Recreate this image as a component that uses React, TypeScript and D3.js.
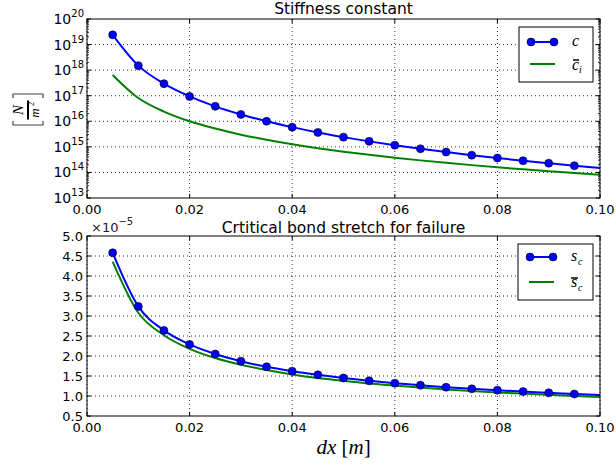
import React from 'react'
import { scaleLinear, scaleLog, line, curveMonotoneX, range } from 'd3'

const dx = [0.005, 0.01, 0.015, 0.02, 0.025, 0.03, 0.035, 0.04, 0.045, 0.05,
  0.055, 0.06, 0.065, 0.07, 0.075, 0.08, 0.085, 0.09, 0.095, 0.1]

// stiffness constant c (markers at all but last point)
const cVals = [2.4e19, 1.5e18, 2.96e17, 9.4e16, 3.84e16, 1.85e16, 1.0e16, 5.9e15, 3.66e15, 2.4e15,
  1.64e15, 1.16e15, 8.4e14, 6.25e14, 4.74e14, 3.66e14, 2.87e14, 2.29e14, 1.84e14, 1.5e14]
const ciVals = [6.5e17, 8.1e16, 2.4e16, 1.0e16, 5.2e15, 3.0e15, 1.9e15, 1.27e15, 8.9e14, 6.5e14,
  4.9e14, 3.76e14, 2.96e14, 2.37e14, 1.93e14, 1.59e14, 1.32e14, 1.11e14, 9.5e13, 8.1e13]

// critical stretch (x 1e-5)
const scVals = [4.58, 3.24, 2.64, 2.29, 2.05, 1.87, 1.73, 1.62, 1.53, 1.45,
  1.38, 1.32, 1.27, 1.22, 1.18, 1.145, 1.11, 1.08, 1.05, 1.024]
const sbVals = [4.36, 3.08, 2.52, 2.18, 1.95, 1.78, 1.65, 1.54, 1.45, 1.38,
  1.31, 1.26, 1.21, 1.165, 1.125, 1.09, 1.06, 1.03, 1.0, 0.975]

const xTicks = [0, 0.02, 0.04, 0.06, 0.08, 0.1]
const logTicks = [13, 14, 15, 16, 17, 18, 19, 20]
const linTicks = [0.5, 1.0, 1.5, 2.0, 2.5, 3.0, 3.5, 4.0, 4.5, 5.0]

const W = 616, H = 466
const left = 87, right = 600
const topA = { y0: 19, y1: 198 }
const botA = { y0: 236, y1: 416 }
const BLUE = '#0000ff', GREEN = '#008000'
const sans = 'DejaVu Sans, sans-serif'
const serif = 'Liberation Serif, DejaVu Serif, serif'
const R = 4

export default function App() {
  const x = scaleLinear().domain([0, 0.1]).range([left, right])
  const yT = scaleLog().domain([1e13, 1e20]).range([topA.y1, topA.y0])
  const yB = scaleLinear().domain([0.5, 5.0]).range([botA.y1, botA.y0])

  const lineT = line<number>().x((_, i) => x(dx[i])).y(d => yT(d)).curve(curveMonotoneX)
  const lineB = line<number>().x((_, i) => x(dx[i])).y(d => yB(d)).curve(curveMonotoneX)

  const minorLog: number[] = []
  for (let e = 13; e < 20; e++) range(2, 10).forEach(m => minorLog.push(m * Math.pow(10, e)))

  const frame = (y0: number, y1: number) => (
    <rect x={left} y={y0} width={right - left} height={y1 - y0} fill="none" stroke="#000" strokeWidth={1} />
  )

  const xAxis = (y0: number, y1: number) => (
    <g>
      {xTicks.map(t => (
        <g key={t}>
          <line x1={x(t)} x2={x(t)} y1={y0} y2={y1} stroke="#000" strokeWidth={0.8} strokeDasharray="1,3" />
          <line x1={x(t)} x2={x(t)} y1={y1} y2={y1 - 4} stroke="#000" />
          <line x1={x(t)} x2={x(t)} y1={y0} y2={y0 + 4} stroke="#000" />
          <text x={x(t)} y={y1 + 16} textAnchor="middle" fontSize={13} fontFamily={sans} fill="#000">{t.toFixed(2)}</text>
        </g>
      ))}
    </g>
  )

  return (
    <svg width={W} height={H} style={{ position: 'absolute', left: 0, top: 0 }}>
      <rect width={W} height={H} fill="#fff" />

      {/* top panel */}
      <text x={(left + right) / 2} y={14} textAnchor="middle" fontSize={15.5} fontFamily={sans}>Stiffness constant</text>
      {logTicks.map(e => (
        <g key={e}>
          {e > 13 && e < 20 && (
            <line x1={left} x2={right} y1={yT(Math.pow(10, e))} y2={yT(Math.pow(10, e))} stroke="#000" strokeWidth={0.8} strokeDasharray="1,3" />
          )}
          <line x1={left} x2={left + 4} y1={yT(Math.pow(10, e))} y2={yT(Math.pow(10, e))} stroke="#000" />
          <line x1={right} x2={right - 4} y1={yT(Math.pow(10, e))} y2={yT(Math.pow(10, e))} stroke="#000" />
          <text x={left - 3} y={yT(Math.pow(10, e)) + 5} textAnchor="end" fontSize={14} fontFamily={sans}>
            10<tspan dy={-7} fontSize={10}>{e}</tspan>
          </text>
        </g>
      ))}
      {minorLog.map(v => (
        <g key={v}>
          <line x1={left} x2={left + 2} y1={yT(v)} y2={yT(v)} stroke="#000" strokeWidth={0.8} />
          <line x1={right} x2={right - 2} y1={yT(v)} y2={yT(v)} stroke="#000" strokeWidth={0.8} />
        </g>
      ))}
      {xAxis(topA.y0, topA.y1)}
      <path d={lineT(ciVals) || ''} fill="none" stroke={GREEN} strokeWidth={2} />
      <path d={lineT(cVals) || ''} fill="none" stroke={BLUE} strokeWidth={2} />
      {cVals.slice(0, 19).map((v, i) => (
        <circle key={i} cx={x(dx[i])} cy={yT(v)} r={R} fill={BLUE} stroke="#000" strokeWidth={0.6} />
      ))}
      {frame(topA.y0, topA.y1)}
      {/* y label [N / m^2], rotated */}
      <g transform="translate(28,110) rotate(-90)" fontFamily={serif}>
        <path d="M-11,-15 L-15,-15 L-15,15 L-11,15" fill="none" stroke="#444" strokeWidth={1.2} />
        <path d="M12,-15 L16,-15 L16,15 L12,15" fill="none" stroke="#444" strokeWidth={1.2} />
        <text x={0} y={-5} fontSize={15} fontStyle="italic" textAnchor="middle">N</text>
        <line x1={-9.5} x2={9.5} y1={0} y2={0} stroke="#000" strokeWidth={2} />
        <text x={-3} y={11} fontSize={13} fontStyle="italic" textAnchor="middle">m</text>
        <text x={6} y={6} fontSize={9} textAnchor="middle">2</text>
      </g>
      {/* legend top */}
      <rect x={519} y={27} width={74} height={55} fill="#fff" stroke="#000" strokeWidth={1} />
      <line x1={531} x2={554} y1={42} y2={42} stroke={BLUE} strokeWidth={2} />
      <circle cx={531} cy={42} r={R} fill={BLUE} stroke="#000" strokeWidth={0.6} />
      <circle cx={554} cy={42} r={R} fill={BLUE} stroke="#000" strokeWidth={0.6} />
      <text x={572} y={46} fontSize={16} fontStyle="italic" fontFamily={serif}>c</text>
      <line x1={530} x2={555} y1={64} y2={64} stroke={GREEN} strokeWidth={2} />
      <line x1={573} x2={579} y1={60} y2={60} stroke="#000" strokeWidth={1.5} />
      <text x={572} y={70} fontSize={16} fontStyle="italic" fontFamily={serif}>c</text>
      <text x={579} y={73} fontSize={10} fontStyle="italic" fontFamily={serif}>i</text>

      {/* bottom panel */}
      <text x={(left + right) / 2} y={233} textAnchor="middle" fontSize={15.5} fontFamily={sans}>Crtitical bond stretch for failure</text>
      <text x={91} y={232} fontSize={13} fontFamily={sans} fill="#222">×10<tspan dy={-7} fontSize={10}>−5</tspan></text>
      {linTicks.map(t => (
        <g key={t}>
          {t > 0.5 && t < 5 && (
            <line x1={left} x2={right} y1={yB(t)} y2={yB(t)} stroke="#000" strokeWidth={0.8} strokeDasharray="1,3" />
          )}
          <line x1={left} x2={left + 4} y1={yB(t)} y2={yB(t)} stroke="#000" />
          <line x1={right} x2={right - 4} y1={yB(t)} y2={yB(t)} stroke="#000" />
          <text x={left - 4} y={yB(t) + 5} textAnchor="end" fontSize={13} fontFamily={sans}>{t.toFixed(1)}</text>
        </g>
      ))}
      {xAxis(botA.y0, botA.y1)}
      <path d={lineB(sbVals) || ''} fill="none" stroke={GREEN} strokeWidth={2} />
      <path d={lineB(scVals) || ''} fill="none" stroke={BLUE} strokeWidth={2} />
      {scVals.slice(0, 19).map((v, i) => (
        <circle key={i} cx={x(dx[i])} cy={yB(v)} r={R} fill={BLUE} stroke="#000" strokeWidth={0.6} />
      ))}
      {frame(botA.y0, botA.y1)}
      {/* legend bottom */}
      <rect x={518} y={244} width={75} height={56} fill="#fff" stroke="#000" strokeWidth={1} />
      <line x1={530} x2={553} y1={257} y2={257} stroke={BLUE} strokeWidth={2} />
      <circle cx={530} cy={257} r={R} fill={BLUE} stroke="#000" strokeWidth={0.6} />
      <circle cx={553} cy={257} r={R} fill={BLUE} stroke="#000" strokeWidth={0.6} />
      <text x={571} y={261} fontSize={16} fontStyle="italic" fontFamily={serif}>s</text>
      <text x={578} y={265} fontSize={10} fontStyle="italic" fontFamily={serif}>c</text>
      <line x1={529} x2={554} y1={282} y2={282} stroke={GREEN} strokeWidth={2} />
      <line x1={571} x2={578} y1={278} y2={278} stroke="#000" strokeWidth={1.5} />
      <text x={571} y={287} fontSize={16} fontStyle="italic" fontFamily={serif}>s</text>
      <text x={578} y={291} fontSize={10} fontStyle="italic" fontFamily={serif}>c</text>

      <text x={(left + right) / 2} y={454} textAnchor="middle" fontSize={21} fontStyle="italic" fontFamily={serif}>
        dx <tspan fontStyle="normal">[</tspan>m<tspan fontStyle="normal">]</tspan>
      </text>
    </svg>
  )
}
